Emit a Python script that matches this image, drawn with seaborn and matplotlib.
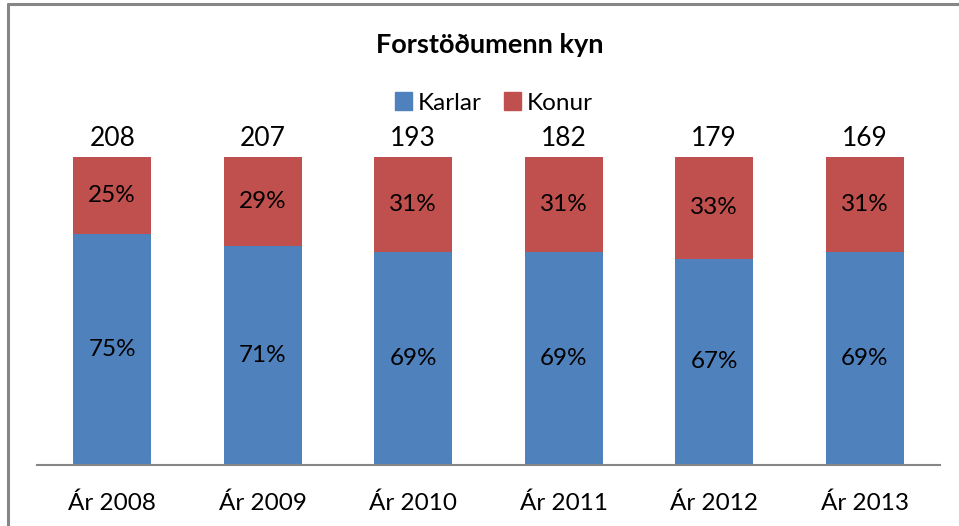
import matplotlib.pyplot as plt
import numpy as np
import pandas as pd
import seaborn as sns
from matplotlib.lines import Line2D
from matplotlib.patches import Patch

years = ["Ár 2008", "Ár 2009", "Ár 2010", "Ár 2011", "Ár 2012", "Ár 2013"]
karlar = [75, 71, 69, 69, 67, 69]
konur = [25, 29, 31, 31, 33, 31]
totals = [208, 207, 193, 182, 179, 169]

blue = "#4F81BD"
red = "#C0504D"

sns.set_theme(style="white")
plt.rcParams["font.family"] = ["Lato", "DejaVu Sans"]

df = pd.DataFrame({"year": years, "karlar": karlar, "konur": konur, "total": totals})
df["stack"] = df["karlar"] + df["konur"]

fig = plt.figure(figsize=(9.59, 5.26), dpi=100)
ax = fig.add_axes([37 / 959, 61 / 526, 903 / 959, 308 / 526])

# stacked: full bar in red, men on top in blue
sns.barplot(data=df, x="year", y="stack", color=red, width=0.52, saturation=1, linewidth=0, ax=ax)
sns.barplot(data=df, x="year", y="karlar", color=blue, width=0.52, saturation=1, linewidth=0, ax=ax)

for i, row in df.iterrows():
    ax.text(i, row["karlar"] / 2, f"{row['karlar']}%", ha="center", va="center", fontsize=17.5, color="black")
    ax.text(i, row["karlar"] + row["konur"] / 2, f"{row['konur']}%", ha="center", va="center",
            fontsize=17.5, color="black")
    ax.text(i, row["stack"] + 2, str(row["total"]), ha="center", va="bottom", fontsize=19,
            color="black", clip_on=False)

ax.set_xlim(-0.5, len(years) - 0.5)
ax.set_ylim(0, 100)
ax.set_yticks([])
ax.set_xlabel("")
ax.set_ylabel("")
ax.tick_params(axis="x", labelsize=17.5, pad=20, length=0, labelcolor="black")
for s in ["top", "right", "left"]:
    ax.spines[s].set_visible(False)
ax.spines["bottom"].set_color("#868686")
ax.spines["bottom"].set_linewidth(1.5)

fig.text(490 / 959, 1 - 45 / 526, "Forstöðumenn kyn", ha="center", va="center",
         fontsize=19.5, fontweight="bold", color="black")

handles = [Patch(color=blue, label="Karlar"), Patch(color=red, label="Konur")]
fig.legend(handles=handles, loc="center", bbox_to_anchor=(494 / 959, 1 - 103 / 526), ncol=2,
           frameon=False, fontsize=17.5, handlelength=0.7, handleheight=0.7,
           handletextpad=0.25, columnspacing=0.9, labelcolor="black")

# outer frame (top and left edges visible)
fig.add_artist(Line2D([8 / 959, 1], [1 - 4 / 526, 1 - 4 / 526], color="#868686", lw=2.2,
                      transform=fig.transFigure))
fig.add_artist(Line2D([8 / 959, 8 / 959], [0, 1 - 4 / 526], color="#868686", lw=2.2,
                      transform=fig.transFigure))

fig.savefig("out.png", dpi=100)
